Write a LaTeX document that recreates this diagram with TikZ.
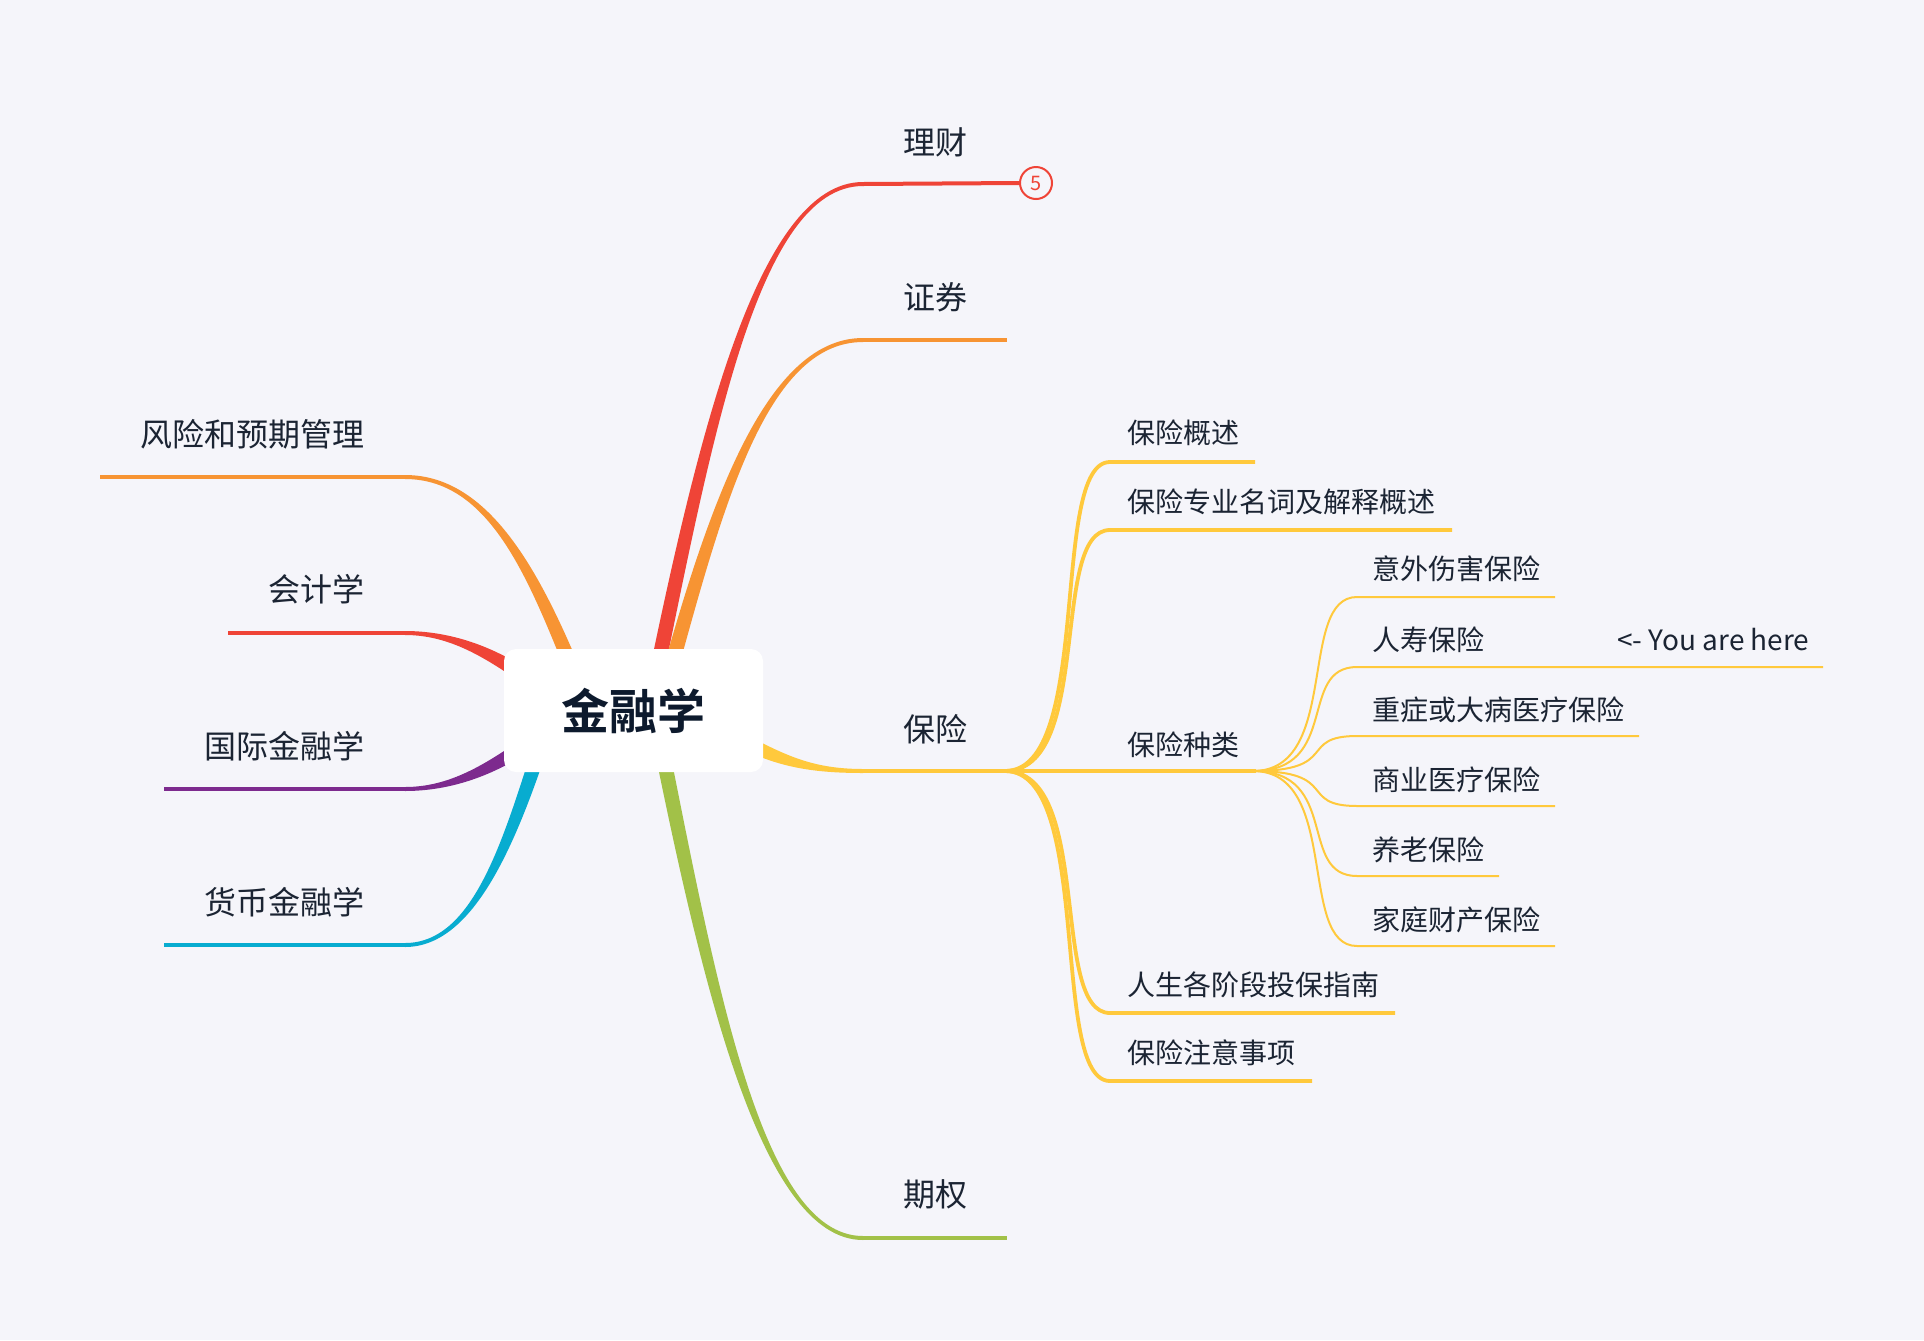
\documentclass[tikz,border=0pt]{standalone}
\usepackage{fontspec}
\setmainfont{Noto Sans CJK SC}[BoldFont={Noto Sans CJK SC Bold}]
\usetikzlibrary{calc}
\definecolor{bg}{HTML}{F5F5FA}
\definecolor{cred}{HTML}{EF4437}
\definecolor{corange}{HTML}{F79433}
\definecolor{cyellow}{HTML}{FFC93C}
\definecolor{cgreen}{HTML}{A2C148}
\definecolor{cpurple}{HTML}{7D2A8E}
\definecolor{ccyan}{HTML}{08ACD0}
\definecolor{ctext}{HTML}{1B2433}
\definecolor{croot}{HTML}{0D1A2D}

% tapered branch: colour, P0, P1, P2, P3, half width at start, half width at end
\newcommand\mmtaper[7]{%
  \path ($(#2)!#6!90:(#3)$) coordinate (tA0)
        ($(#2)!#6!-90:(#3)$) coordinate (tB0)
        ($(#5)!#7!-90:(#4)$) coordinate (tA3)
        ($(#5)!#7!90:(#4)$) coordinate (tB3);
  \fill[#1] (tA0) .. controls ($(#3)+(tA0)-(#2)$) and ($(#4)+(tA3)-(#5)$) .. (tA3)
     -- (tB3) .. controls ($(#4)+(tB3)-(#5)$) and ($(#3)+(tB0)-(#2)$) .. (tB0) -- cycle;}

\begin{document}
\begin{tikzpicture}[x=0.5pt,y=-0.5pt,
  lbl1/.style={font=\fontsize{16pt}{18pt}\selectfont, text=ctext, inner sep=0pt},
  lbl2/.style={font=\fontsize{14pt}{16pt}\selectfont, text=ctext, inner sep=0pt, anchor=west},
  sub2/.style={draw=cyellow, line width=1.9pt},
  sub3/.style={draw=cyellow, line width=1pt},
  hline/.style={line width=2pt},
  rootbox/.style={fill=white, rounded corners=6pt, minimum width=129.5pt, minimum height=61.5pt,
    inner sep=0pt, text=croot, font=\fontsize{24pt}{26pt}\selectfont\bfseries}]
\fill[bg] (0,0) rectangle (1924,1340);
\useasboundingbox (0,0) rectangle (1924,1340);

% ---------- main branches (right) ----------
\coordinate (a0) at (651,700); \coordinate (a1) at (704,442); \coordinate (a2) at (757,184); \coordinate (a3) at (863,184);
\mmtaper{cred}{a0}{a1}{a2}{a3}{3.7pt}{1pt}
\node[circle, draw=cred, line width=1pt, fill=bg, minimum size=16pt, inner sep=0pt, text=cred,
  font=\fontsize{10pt}{10pt}\selectfont] (badge) at (1036,183) {5};
\draw[cred, hline] (a3) -- (badge.west);

\coordinate (b0) at (662,700); \coordinate (b1) at (712,520); \coordinate (b2) at (762,340); \coordinate (b3) at (863,340);
\mmtaper{corange}{b0}{b1}{b2}{b3}{3.7pt}{1pt}
\coordinate (b4) at (1007,340);
\draw[corange, hline] (b3) -- (b4);

\coordinate (c0) at (740,740); \coordinate (c1) at (780,760); \coordinate (c2) at (810,771); \coordinate (c3) at (863,771);
\mmtaper{cyellow}{c0}{c1}{c2}{c3}{3.6pt}{1pt}
\coordinate (f2) at (1005,771);
\draw[cyellow, hline] (c3) -- (f2);

\coordinate (d0) at (656,720); \coordinate (d1) at (708,979); \coordinate (d2) at (760,1238); \coordinate (d3) at (863,1238);
\mmtaper{cgreen}{d0}{d1}{d2}{d3}{3.7pt}{1pt}
\coordinate (d4) at (1007,1238);
\draw[cgreen, hline] (d3) -- (d4);

% ---------- main branches (left) ----------
\coordinate (e0) at (585,700); \coordinate (e1) at (540,588); \coordinate (e2) at (495,477); \coordinate (e3) at (405,477);
\mmtaper{corange}{e0}{e1}{e2}{e3}{3.7pt}{1pt}
\coordinate (e4) at (100,477);
\draw[corange, hline] (e3) -- (e4);

\coordinate (g0) at (530,680); \coordinate (g1) at (490,652); \coordinate (g2) at (450,633); \coordinate (g3) at (405,633);
\mmtaper{cred}{g0}{g1}{g2}{g3}{3.6pt}{1pt}
\coordinate (g4) at (228,633);
\draw[cred, hline] (g3) -- (g4);

\coordinate (h0) at (530,742); \coordinate (h1) at (490,770); \coordinate (h2) at (450,789); \coordinate (h3) at (405,789);
\mmtaper{cpurple}{h0}{h1}{h2}{h3}{3.6pt}{1pt}
\coordinate (h4) at (164,789);
\draw[cpurple, hline] (h3) -- (h4);

\coordinate (k0) at (549,720); \coordinate (k1) at (513,832); \coordinate (k2) at (477,945); \coordinate (k3) at (405,945);
\mmtaper{ccyan}{k0}{k1}{k2}{k3}{3.7pt}{1pt}
\coordinate (k4) at (164,945);
\draw[ccyan, hline] (k3) -- (k4);

% ---------- root ----------
\node[rootbox] (root) at (633.5,710.5) {金融学};

% ---------- level 1 labels ----------
\node[lbl1, anchor=west] (t1) at (903,142) {理财};
\node[lbl1, anchor=west] (t2) at (903,297) {证券};
\node[lbl1, anchor=west] (t3) at (903,729) {保险};
\node[lbl1, anchor=west] (t4) at (903,1194) {期权};
\node[lbl1, anchor=east] (l1) at (365,434) {风险和预期管理};
\node[lbl1, anchor=east] (l2) at (365,589) {会计学};
\node[lbl1, anchor=east] (l3) at (365,746) {国际金融学};
\node[lbl1, anchor=east] (l4) at (365,902) {货币金融学};

% ---------- level 2 (保险) ----------
\draw[sub2] (f2) .. controls (1094,771) and (1049,462) .. (1110,462) -- (1255,462);
\draw[sub2] (f2) .. controls (1094,771) and (1049,530) .. (1110,530) -- (1452,530);
\coordinate (f3) at (1253,771);
\draw[sub2] (f2) -- (1256,771);
\draw[sub2] (f2) .. controls (1094,771) and (1049,1013) .. (1110,1013) -- (1395,1013);
\draw[sub2] (f2) .. controls (1094,771) and (1049,1081) .. (1110,1081) -- (1312,1081);

\node[lbl2] (s1) at (1127,433) {保险概述};
\node[lbl2] (s2) at (1127,502) {保险专业名词及解释概述};
\node[lbl2] (s3) at (1127,745) {保险种类};
\node[lbl2] (s4) at (1127,985) {人生各阶段投保指南};
\node[lbl2] (s5) at (1127,1053) {保险注意事项};

% ---------- level 3 (保险种类) ----------
\draw[sub3] (f3) .. controls (1341,771) and (1297,597) .. (1357,597) -- (1555,597);
\draw[sub3] (f3) .. controls (1341,771) and (1297,667) .. (1357,667) -- (1823,667);
\draw[sub3] (f3) .. controls (1341,771) and (1297,736) .. (1357,736) -- (1639,736);
\draw[sub3] (f3) .. controls (1341,771) and (1297,806) .. (1357,806) -- (1555,806);
\draw[sub3] (f3) .. controls (1341,771) and (1297,876) .. (1357,876) -- (1499,876);
\draw[sub3] (f3) .. controls (1341,771) and (1297,946) .. (1357,946) -- (1555,946);

\node[lbl2] (u1) at (1372,569) {意外伤害保险};
\node[lbl2] (u2) at (1372,640) {人寿保险};
\coordinate (hx) at (1617,0);
\node[lbl2, anchor=base west] (here) at (u2.base -| hx) {<- You are here};
\node[lbl2] (u3) at (1372,710) {重症或大病医疗保险};
\node[lbl2] (u4) at (1372,780) {商业医疗保险};
\node[lbl2] (u5) at (1372,850) {养老保险};
\node[lbl2] (u6) at (1372,920) {家庭财产保险};
\end{tikzpicture}
\end{document}
